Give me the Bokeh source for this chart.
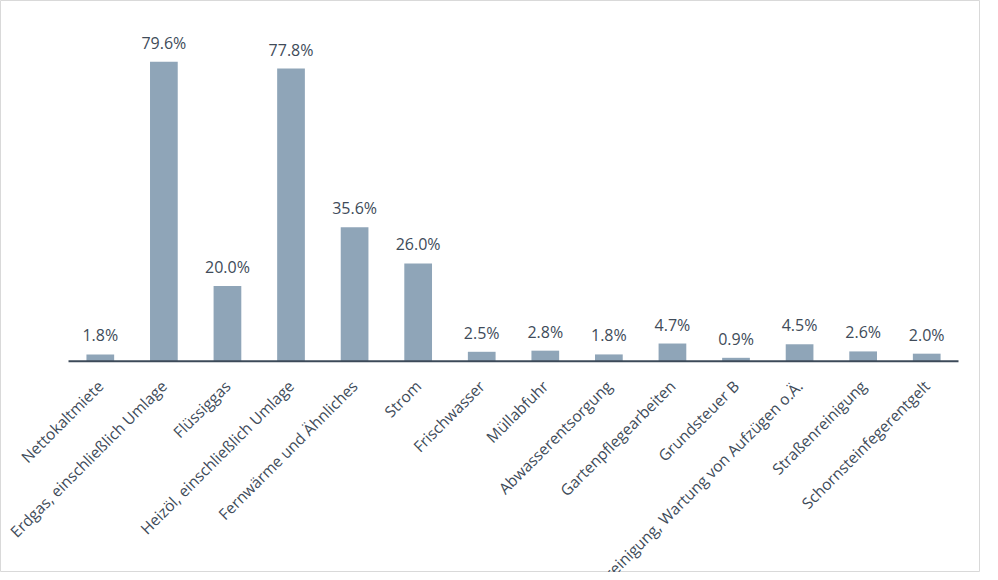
import math
from bokeh.plotting import figure
from bokeh.models import ColumnDataSource, Range1d
from bokeh.core.properties import value
from bokeh.embed import file_html
from bokeh.resources import INLINE

categories = [
    "Nettokaltmiete",
    "Erdgas, einschließlich Umlage",
    "Flüssiggas",
    "Heizöl, einschließlich Umlage",
    "Fernwärme und Ähnliches",
    "Strom",
    "Frischwasser",
    "Müllabfuhr",
    "Abwasserentsorgung",
    "Gartenpflegearbeiten",
    "Grundsteuer B",
    "Hausreinigung, Wartung von Aufzügen o.Ä.",
    "Straßenreinigung",
    "Schornsteinfegerentgelt",
]
values = [1.8, 79.6, 20.0, 77.8, 35.6, 26.0, 2.5, 2.8, 1.8, 4.7, 0.9, 4.5, 2.6, 2.0]
value_labels = [f"{v:.1f}%" for v in values]

FONT = "Open Sans"
TEXT_COLOR = "#404b59"
BAR_COLOR = "#8fa5b8"
AXIS_COLOR = "#3c4a59"

idx = list(range(len(categories)))
src = ColumnDataSource(dict(x=idx, top=values, cat=categories, lab=value_labels,
                            zero=[0] * len(idx)))

p = figure(width=980, height=572, output_backend="svg", toolbar_location=None,
           x_axis_type=None, y_axis_type=None,
           x_range=Range1d(-1.570, 13.846), y_range=Range1d(-56.18, 95.9),
           min_border=0)
p.outline_line_color = "#d9d9d9"
p.outline_line_width = 1
p.background_fill_color = "white"
p.border_fill_color = "white"

p.vbar(x="x", top="top", bottom=0, width=0.436, source=src,
       fill_color=BAR_COLOR, line_color=None)

p.segment(x0=[-0.5], x1=[len(categories) - 0.5], y0=[0], y1=[0],
          line_color=AXIS_COLOR, line_width=2)

p.text(x="x", y="top", text="lab", source=src, text_align="center",
       text_baseline="alphabetic", y_offset=-19,
       text_font=value(FONT), text_font_size="16px", text_color=TEXT_COLOR)

p.text(x="x", y="zero", text="cat", source=src, text_align="right",
       text_baseline="alphabetic", angle=math.pi / 4, x_offset=0, y_offset=22,
       text_font=value(FONT), text_font_size="15.5px", text_color=TEXT_COLOR)

open("out.html", "w").write(file_html(p, INLINE))
